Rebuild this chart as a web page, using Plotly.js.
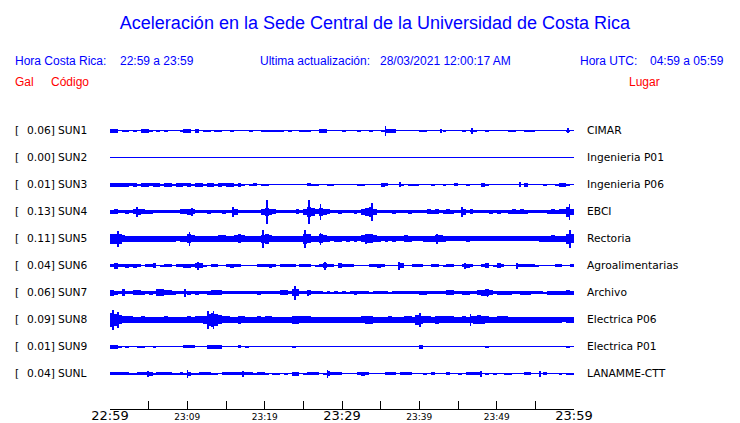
<!DOCTYPE html>
<html>
<head>
<meta charset="utf-8">
<script src="https://cdn.plot.ly/plotly-3.0.1.min.js"></script>
<style>html,body{margin:0;padding:0;background:#fff;}#chart{width:740px;height:423px;}</style>
</head>
<body>
<div id="chart"></div>
<script>
// ---------------- DATA ----------------
const codes = ["SUN1","SUN2","SUN3","SUN4","SUN5","SUN6","SUN7","SUN8","SUN9","SUNL"];
const galValues = ["0.06","0.00","0.01","0.13","0.11","0.04","0.06","0.09","0.01","0.04"];
const places = ["CIMAR","Ingenieria P01","Ingenieria P06","EBCI","Rectoria","Agroalimentarias","Archivo","Electrica P06","Electrica P01","LANAMME-CTT"];

const tickMinutes = [0,5,10,15,20,25,30,35,40,45,50,55,60];
const tickLabels  = ["22:59","","23:09","","23:19","","23:29","","23:39","","23:49","","23:59"];
const tickMajor   = [true,false,false,false,false,false,true,false,false,false,false,false,true];

const binMinutes = 0.5;   // envelope sampled every 30 s (120 bins over 60 min)

// envelope half-amplitude of each record (pixel units), per 30 s bin
const sun1 = [2,2,0,1,1,0,1,0,2,2, 1,0,1,0,1,0,0,0,1,2, 2,0,2,0,1,1,0,1,1,0, 0,1,0,0,0,0,1,0,0,1,
              1,1,1,1,1,0,1,0,0,1, 1,1,0,0,2,2,0,0,0,0, 1,0,0,0,1,0,0,1,0,0, 1,2,2,2,0,0,0,0,0,0,
              1,1,0,0,0,0,1,0,0,0, 0,1,0,1,1,0,0,1,0,0, 0,0,0,1,1,0,0,1,1,1, 0,0,0,0,0,0,0,0,1,0];
const sun2 = [0,0,0,0,0,0,0,0,0,0, 0,0,0,0,0,0,0,0,0,0, 0,0,0,0,0,0,0,0,0,0, 0,0,0,0,0,0,0,0,0,0,
              0,0,0,0,0,0,0,0,0,0, 0,0,0,0,0,0,0,0,0,0, 0,0,0,0,0,0,0,0,0,0, 0,0,0,0,0,0,0,0,0,0,
              0,0,0,0,0,0,0,0,0,0, 0,0,0,0,0,0,0,0,0,0, 0,0,0,0,0,0,0,0,0,0, 0,0,0,0,0,0,0,0,0,0];
const sun3 = [2,2,2,2,2,1.5,2,1,2,2, 1.5,2,2,1,2,2,1,2,2,1.5, 2,1,2,2,1,2,2,1,2,1.5, 2,2,1,2,1,0,1,1.5,0,1,
              1,0,0,0,0,0,0,0,0,0, 0,1.5,1,1,0,0,1,1,0,0, 0,0,0,0,1,1,0,0,0,0, 2,1.5,0,0,0,1,0,1,1,1,
              0,0,0,1,0,0,1,0,0,1.5, 0,0,1,0,0,0,2,1,0,0, 0,0,0,0,0,0,0,2,0,0, 0,0,1,0,0,1,2,2,1,0];
const sun4 = [2,2.5,1.5,1.5,2,1.5,2.5,3,2.5,2, 2,1.5,1.5,1.5,1.5,1.5,1.5,1.5,2.5,2.5, 3,2.5,1.5,1.5,1.5,2,1.5,1.5,1.5,2, 1.5,1.5,3,1.5,1.5,1.5,1.5,1.5,1.5,3,
              4,3,2.5,1.5,1.5,1.5,1.5,1.5,2.5,1.5, 3,5,4,2.5,4,3,2.5,1.5,1.5,2, 1.5,1.5,1.5,2,1.5,3,4,5,3,1.5, 1.5,1.5,1.5,2,1.5,1.5,1.5,2,1.5,1.5,
              1.5,1.5,2.5,2,2.5,1.5,2,2.5,2,1.5, 1.5,3,1.5,2.5,1.5,1.5,1.5,1.5,2,1.5, 2,1.5,1.5,2,2.5,2,2.5,2,1.5,1.5, 1.5,1.5,1.5,2,2.5,2,2.5,2.5,5,3];
const sun5 = [5,5,5,3.5,3,3,3,3,3,3, 3,3,3,3,3,3,3,2.5,3,3, 4.5,3.5,3,3,3,3,3,3,3.5,3.5, 3,3,3.5,4.5,3.5,3,3,3,3,4,
              5,3.5,3,3,3,3,3,3,3,3, 5,4.5,3,3,4.5,3.5,3,2.5,3,3, 2.5,3,2.5,3,2.5,3.5,4.5,4.5,3.5,3, 2.5,3,2.5,3,2.5,2.5,3.5,3,2.5,2.5,
              2.5,3,3,3,3.5,3.5,3,2.5,2.5,2.5, 2.5,2.5,3,2.5,2.5,2.5,2.5,2.5,2.5,2.5, 2.5,2.5,2.5,2.5,2.5,2.5,2.5,2.5,2.5,2.5, 2.5,3,3,3,3.5,3,3,3,5,4.5];
const sun6 = [1.5,3,1.5,1.5,2,1.5,2,1.5,0,1.5, 1.5,2.5,0,1,1.5,1.5,0,1.5,1.5,2, 2,1.5,2.5,2.5,1,0,1.5,1.5,0,0, 1.5,2,1.5,1.5,0,0,0,0,1.5,1.5,
              1.5,2,1.5,0,1.5,1.5,1.5,1.5,0,1.5, 1.5,1.5,0,1,1.5,2.5,1.5,1.5,0,2.5, 1.5,1.5,1.5,0,0,0,0,1.5,1.5,2, 1.5,0,0,0,0,2.5,0,0,1.5,1.5,
              1.5,0,0,1.5,1.5,0,1,1.5,1.5,0, 0,1.5,2,1.5,0,0,1.5,2.5,0,1, 2.5,1.5,0,0,0,1.5,1.5,1.5,1.5,1.5, 1,0,0,0,0,1.5,1.5,0,0,1.5];
const sun7 = [3,2,1.5,3.5,1.5,1.5,2.5,2.5,2,1.5, 2,1.5,3.5,3.5,2.5,2.5,2,1.5,1.5,1.5, 2,1.5,2,1.5,1.5,2,2.5,2.5,2.5,1.5, 1.5,1.5,1.5,1.5,1.5,1.5,1.5,1.5,2,1.5,
              1.5,1.5,1.5,1.5,2.5,2.5,1.5,3.5,3.5,1.5, 1.5,2.5,1.5,1.5,1.5,1,1.5,1,1.5,1, 1.5,1,1.5,2,1.5,1.5,1.5,1,1.5,1.5, 1.5,1.5,1,1.5,1.5,1.5,1.5,1.5,1.5,1.5,
              2,2,1.5,1.5,1.5,1.5,1.5,2.5,2.5,1.5, 1.5,2,2,1.5,1.5,2.5,3,3.5,2.5,1.5, 2,2,2,2,1.5,1.5,2,2,2,1.5, 1.5,1.5,1,2,2,2,2,2,2.5,2];
const sun8 = [7,6,4.5,3.5,3.5,3.5,3,3,3.5,3, 3,3,3,3,3.5,3,3,3,3,3, 3.5,3,3.5,3.5,4,6,7,6,4.5,3.5, 3.5,3,3,4,3.5,3,3,3,3.5,3,
              3.5,3.5,3,3,3,3,3,4,4,3.5, 3.5,3.5,3,3,3,3,3,3,3,3, 3,3,3,3,3,3.5,4,4,3,3, 3,3,3.5,3,3,3,3.5,3.5,3,5,
              4,3.5,3.5,3,4,3.5,3.5,3.5,3.5,3, 3,3.5,3,3.5,4,4.5,4,3.5,3,3, 3.5,3.5,3.5,3,3,3,3,3,3,3, 3,3,3,3,3,3,3,2.5,3,3];
const sun9 = [2,2,1,0,1,0,0,1,1,0, 0,1,0,0,0,0,0,0,0,1.5, 1.5,1.5,0,0,0,2,2,2,2,0, 0,0,0,1.5,0,1,0,0,0,0,
              0,0,0,0,0,0,0,1,0,0, 0,0,0,0,0,0,0,0,0,0, 0,0,0,0,0,0,0,0,0,0, 0,0,0,0,0,0,0,0,0,0,
              2,0,0,0,0,0,0,0,0,0, 0,0,0,0,0,0,0,1,0,0, 0,0,0,0,0,0,0,0,0,0, 0,0,0,0,0,0,0,0,1,0];
const sunL = [1.5,1.5,1.5,1.5,1.5,1,1,1.5,1.5,1.5, 2,1,1.5,1.5,1.5,1.5,1,1,1.5,1, 2,1,1,1.5,1.5,1.5,1,1,0,1.5, 1.5,1.5,1.5,1.5,1.5,1.5,1.5,1,1.5,1.5,
              1,0,1,1,0,1,0,2,2,0, 1,1.5,1.5,1.5,0,1,2.5,1.5,1.5,1.5, 0,0,0,0,1.5,2,1.5,0,0,0, 0,1.5,1.5,1.5,0,1.5,1.5,1.5,0,0,
              0,1,0,1.5,0,0,0,1.5,0,0, 1,0,1.5,1.5,1.5,1.5,0,1,0,1, 0,0,1,1,0,0,0,1.5,1.5,0, 0,0,1.5,0,0,0,1,0,1,1];

// isolated spikes: [minute, half-amplitude]
const peaks1 = [[35.6,5],[46.8,3],[59.2,2.5],[42.8,2]];
const peaks2 = [];
const peaks3 = [[37.5,2.5],[53.0,2.5]];
const peaks4 = [[20.3,12],[25.7,12],[27.2,8],[33.9,9],[3.5,5],[10.6,4],[15.9,5],[45.5,5],[59.4,8]];
const peaks5 = [[1.0,8],[10.3,7],[19.8,9],[25.2,9],[27.2,6],[33.1,5],[42.3,5],[59.5,9]];
const peaks6 = [[11.4,4],[27.8,4],[37.4,4],[45.9,3],[52.6,3]];
const peaks7 = [[23.9,7],[25.6,3],[9.7,4],[48.8,4]];
const peaks8 = [[0.4,10],[1.0,8],[12.7,9],[13.4,9],[40.1,7],[46.6,6]];
const peaks9 = [];
const peaksL = [[4.9,3],[10.0,4],[17.2,3],[28.1,4],[48.0,3],[55.6,3]];

const envelopes = [sun1,sun2,sun3,sun4,sun5,sun6,sun7,sun8,sun9,sunL];
const peakLists = [peaks1,peaks2,peaks3,peaks4,peaks5,peaks6,peaks7,peaks8,peaks9,peaksL];

// ---------------- STYLE ----------------
const BLUE = "#0000ff";
const RED = "#ff0000";
const PX_PER_ROW = 27;           // amplitude units are pixels, one row = 27 px
const L = 110, R = 574, T = 117, B = 409, W = 740, H = 423;
const px2x = px => (px - L) / (R - L);
const py2y = py => (B - py) / (B - T);

const traces = [];
envelopes.forEach((env, i) => {
  const row = -i;
  traces.push({
    type: "scatter", mode: "lines",
    x: [tickMinutes[0], tickMinutes[tickMinutes.length - 1]], y: [row, row],
    line: { color: BLUE, width: 1 }, hoverinfo: "skip"
  });
  const xs = env.map((_, k) => tickMinutes[0] + (k + 0.5) * binMinutes);
  traces.push({
    type: "bar", x: xs,
    y: env.map(a => 2 * a / PX_PER_ROW),
    base: env.map(a => row - a / PX_PER_ROW),
    width: binMinutes,
    marker: { color: BLUE, line: { width: 0 } }, hoverinfo: "skip"
  });
  const pk = peakLists[i];
  if (pk.length) {
    traces.push({
      type: "bar", x: pk.map(p => p[0]),
      y: pk.map(p => 2 * p[1] / PX_PER_ROW),
      base: pk.map(p => row - p[1] / PX_PER_ROW),
      width: 0.2,
      marker: { color: BLUE, line: { width: 0 } }, hoverinfo: "skip"
    });
  }
});

const annotations = [];
const addText = (text, px, py, color, size, family, anchor) => annotations.push({
  text, x: px2x(px), y: py2y(py), xref: "paper", yref: "paper",
  xanchor: anchor || "left", yanchor: "middle", showarrow: false,
  font: { color, size, family }
});

const SANS = "Liberation Sans, Arial, sans-serif";
const DJ = "DejaVu Sans, sans-serif";
addText("Hora Costa Rica:", 13, 61, BLUE, 12, SANS);
addText("22:59 a 23:59", 118, 61, BLUE, 12, SANS);
addText("Ultima actualización:", 258, 61, BLUE, 12, SANS);
addText("28/03/2021 12:00:17 AM", 378, 61, BLUE, 12, SANS);
addText("Hora UTC:", 578, 61, BLUE, 12, SANS);
addText("04:59 a 05:59", 648, 61, BLUE, 12, SANS);
addText("Gal", 13, 82, RED, 12, SANS);
addText("Código", 49, 82, RED, 12, SANS);
addText("Lugar", 627, 82, RED, 12, SANS);

codes.forEach((c, i) => {
  const common = { xref: "paper", yref: "y", y: -i, yanchor: "middle", showarrow: false,
                   font: { color: "#000", size: 10.7, family: DJ } };
  annotations.push(Object.assign({}, common, { text: "[", x: px2x(13), xanchor: "left" }));
  annotations.push(Object.assign({}, common, { text: galValues[i] + "]", x: px2x(57), xanchor: "right" }));
  annotations.push(Object.assign({}, common, { text: c, x: px2x(56), xanchor: "left" }));
  annotations.push(Object.assign({}, common, { text: places[i], x: px2x(585), xanchor: "left" }));
});

const tickText = tickLabels.map((t, k) => tickMajor[k] ? t : (t ? '<span style="font-size:9px">' + t + '</span>' : ""));

const layout = {
  width: W, height: H,
  margin: { l: L, r: W - R, t: T, b: H - B, pad: 0 },
  paper_bgcolor: "#fff", plot_bgcolor: "#fff",
  showlegend: false, barmode: "overlay", bargap: 0,
  title: {
    text: "Aceleración en la Sede Central de la Universidad de Costa Rica",
    font: { family: SANS, size: 18, color: BLUE },
    x: 375 / W, xref: "container", xanchor: "center",
    y: 1 - 23 / H, yref: "container", yanchor: "middle"
  },
  xaxis: {
    range: [tickMinutes[0], tickMinutes[tickMinutes.length - 1]],
    tickmode: "array", tickvals: tickMinutes, ticktext: tickText,
    ticks: "inside", ticklen: 8, tickwidth: 1, tickcolor: "#000",
    ticklabelstandoff: -6,
    showline: true, linecolor: "#000", linewidth: 1,
    showgrid: false, zeroline: false, fixedrange: true,
    tickfont: { family: DJ, size: 13, color: "#000" }, automargin: false
  },
  yaxis: {
    range: [-(B - 130.5) / PX_PER_ROW, (130.5 - T) / PX_PER_ROW],
    visible: false, fixedrange: true, showgrid: false, zeroline: false
  },
  annotations
};

Plotly.newPlot("chart", traces, layout, { staticPlot: true, displayModeBar: false });
</script>
</body>
</html>
